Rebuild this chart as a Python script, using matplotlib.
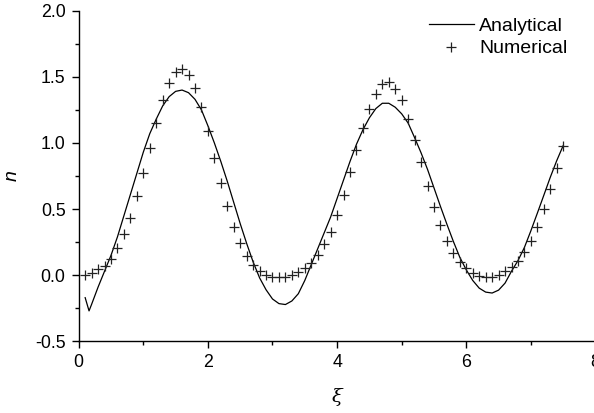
import numpy as np
import matplotlib
matplotlib.use('Agg')
import matplotlib.pyplot as plt
from matplotlib.ticker import MultipleLocator

plt.rcParams['font.family'] = ['Liberation Sans', 'DejaVu Sans']
plt.rcParams['axes.unicode_minus'] = False

# analytical solution
xi_an = [0.1, 0.16, 0.2, 0.3, 0.4, 0.5, 0.6, 0.7, 0.8, 0.9,
         1.0, 1.1, 1.2, 1.3, 1.4, 1.5, 1.6, 1.7, 1.8, 1.9,
         2.0, 2.1, 2.2, 2.3, 2.4, 2.5, 2.6, 2.7, 2.8, 2.9,
         3.0, 3.1, 3.2, 3.3, 3.4, 3.5, 3.6, 3.7, 3.8, 3.9,
         4.0, 4.1, 4.2, 4.3, 4.4, 4.5, 4.6, 4.7, 4.8, 4.9,
         5.0, 5.1, 5.2, 5.3, 5.4, 5.5, 5.6, 5.7, 5.8, 5.9,
         6.0, 6.1, 6.2, 6.3, 6.4, 6.5, 6.6, 6.7, 6.8, 6.9,
         7.0, 7.1, 7.2, 7.3, 7.4, 7.5]
n_an = [-0.17, -0.27, -0.22, -0.09, 0.03, 0.15, 0.29, 0.45, 0.61, 0.77,
        0.93, 1.07, 1.18, 1.28, 1.35, 1.39, 1.40, 1.38, 1.33, 1.25,
        1.13, 1.00, 0.86, 0.71, 0.55, 0.39, 0.24, 0.10, -0.02, -0.11,
        -0.18, -0.215, -0.222, -0.195, -0.14, -0.04, 0.08, 0.20, 0.32, 0.44,
        0.58, 0.72, 0.86, 0.99, 1.10, 1.19, 1.26, 1.30, 1.30, 1.27,
        1.22, 1.15, 1.04, 0.925, 0.80, 0.66, 0.52, 0.385, 0.255, 0.135,
        0.04, -0.04, -0.098, -0.128, -0.135, -0.113, -0.06, 0.03, 0.11, 0.21,
        0.336, 0.469, 0.604, 0.74, 0.866, 0.98]

# numerical points, one every 0.1
xi_num = np.round(np.arange(0.1, 7.51, 0.1), 1)
n_num = [0.00, 0.015, 0.045, 0.073, 0.126, 0.205, 0.31, 0.436, 0.595, 0.77,
         0.96, 1.15, 1.328, 1.457, 1.538, 1.56, 1.515, 1.417, 1.27, 1.088,
         0.885, 0.697, 0.525, 0.368, 0.245, 0.146, 0.075, 0.03, 0.002, -0.01,
         -0.015, -0.01, 0.002, 0.024, 0.053, 0.092, 0.154, 0.235, 0.33, 0.458,
         0.609, 0.777, 0.949, 1.113, 1.26, 1.373, 1.447, 1.459, 1.411, 1.323,
         1.184, 1.025, 0.853, 0.678, 0.515, 0.376, 0.255, 0.167, 0.096, 0.053,
         0.015, -0.005, -0.01, -0.01, 0.002, 0.033, 0.06, 0.108, 0.179, 0.262,
         0.368, 0.50, 0.652, 0.81, 0.98]

fig = plt.figure(figsize=(5.94, 4.13), dpi=100)
ax = fig.add_axes([0.1325, 0.1736, 0.8700, 0.8005])

ax.plot(xi_an, n_an, '-', color='black', lw=0.9, label='Analytical')
ax.plot(xi_num, n_num, '+', color='#222222', ms=7, mew=0.9, label='Numerical')

ax.set_xlim(0, 8)
ax.set_ylim(-0.5, 2.0)
ax.xaxis.set_major_locator(MultipleLocator(2))
ax.xaxis.set_minor_locator(MultipleLocator(1))
ax.yaxis.set_major_locator(MultipleLocator(0.5))
ax.yaxis.set_minor_locator(MultipleLocator(0.25))
ax.xaxis.set_major_formatter(plt.FuncFormatter(lambda v, p: f'{v:.0f}'))
ax.yaxis.set_major_formatter(plt.FuncFormatter(lambda v, p: f'{v:.1f}'))

for s in ['top', 'right']:
    ax.spines[s].set_visible(False)
for s in ['left', 'bottom']:
    ax.spines[s].set_linewidth(1.0)
ax.tick_params(which='major', direction='out', length=5, width=1.0, labelsize=12.8, pad=4.5)
ax.tick_params(which='minor', direction='out', length=3, width=1.0)

ax.set_xlabel('ξ', family='DejaVu Serif', style='italic', fontsize=14, labelpad=12)
ax.set_ylabel('n', style='italic', fontsize=14, labelpad=10)

ax.legend(loc='upper left', bbox_to_anchor=(0.722, 0.958), bbox_transform=fig.transFigure,
          frameon=False, fontsize=14, borderpad=0, borderaxespad=0,
          handlelength=2.3, handletextpad=0.3, labelspacing=0.25)

fig.savefig('out.png', dpi=100)
